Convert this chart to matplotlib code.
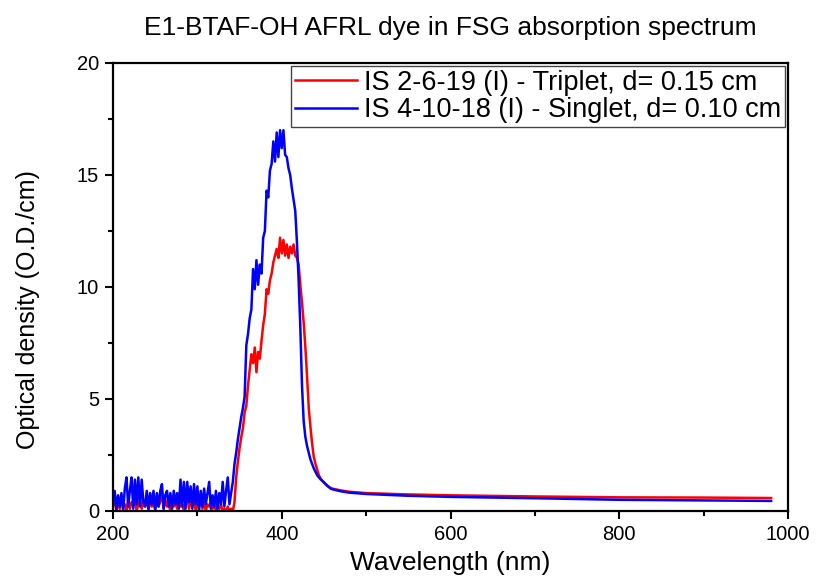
import matplotlib
matplotlib.use("Agg")
import matplotlib.pyplot as plt
from matplotlib.ticker import MultipleLocator
import numpy as np

plt.rcParams['font.family'] = ['Liberation Sans', 'DejaVu Sans']

# noisy part of the spectra, 2 nm steps from 200 nm
step = 2
red_noisy = [
    0.2, 0.5, 0.0, 0.4, 0.1, 0.6, 0.2, 0.3, 0.0, 0.5,      # 200
    0.1, 0.4, 0.2, 0.6, 0.0, 0.3, 0.5, 0.1, 0.4, 0.2,      # 220
    0.6, 0.0, 0.5, 0.2, 0.3, 0.1, 0.6, 0.2, 0.4, 0.8,      # 240
    0.1, 0.5, 0.2, 0.3, 0.0, 0.5, 0.2, 0.4, 0.1, 0.6,      # 260
    0.2, 0.3, 0.0, 0.5, 0.7, 0.1, 0.4, 0.2, 0.5, 0.0,      # 280
    0.3, 0.2, 0.5, 0.1, 0.4, 0.0, 0.3, 0.2, 0.4, 0.1,      # 300
    0.3, 0.0, 0.2, 0.1, 0.3, 0.0, 0.1, 0.0, 0.2, 0.0,      # 320
    0.1, 0.0, 0.4, 1.5, 2.2, 2.8, 3.3, 3.7, 4.4, 4.7,      # 340
    5.6, 6.3, 7.0, 6.6, 7.3, 6.2, 7.1, 6.8, 7.6, 8.3,      # 360
    8.8, 9.9, 9.7, 10.3, 10.6, 11.1, 11.4, 11.7, 11.3, 12.2,  # 380
    11.5, 12.1, 11.4, 11.9, 11.3, 11.8, 11.5, 11.9, 11.4, 11.3,  # 400
    11.0, 10.1, 9.3, 8.4, 7.3, 6.0, 4.6, 3.75, 3.0, 2.4,   # 420
    2.1, 1.85, 1.6, 1.45, 1.35, 1.27, 1.2, 1.14, 1.08, 1.02,  # 440
]
blue_noisy = [
    0.3, 0.9, 0.1, 0.7, 0.2, 0.8, 0.0, 1.0, 1.5, 0.2,      # 200
    0.9, 1.5, 0.1, 1.4, 0.3, 1.5, 0.2, 1.4, 0.4, 0.2,      # 220
    0.9, 0.1, 0.8, 0.3, 0.9, 0.0, 0.8, 0.2, 0.9, 1.2,      # 240
    0.1, 0.7, 0.9, 0.2, 0.8, 0.1, 0.9, 0.3, 0.8, 0.1,      # 260
    1.4, 0.2, 1.3, 0.1, 1.3, 0.4, 1.1, 0.1, 1.2, 0.3,      # 280
    1.1, 0.0, 0.9, 0.2, 1.0, 0.3, 0.8, 1.3, 0.1, 0.7,      # 300
    0.2, 0.9, 0.1, 0.8, 0.3, 1.3, 0.2, 0.9, 1.5, 0.3,      # 320
    0.8, 1.3, 2.1, 2.6, 3.2, 3.7, 4.2, 4.6, 5.1, 7.4,      # 340
    7.9, 8.6, 9.0, 10.8, 9.9, 11.2, 10.1, 11.0, 10.6, 12.2,  # 360
    12.5, 14.3, 14.0, 15.2, 15.5, 16.5, 15.6, 16.9, 15.8, 17.0,  # 380
    16.2, 17.0, 15.9, 15.8, 15.3, 15.0, 14.4, 13.9, 13.4, 12.0,  # 400
    10.3, 8.2, 5.6, 4.0, 3.3, 2.9, 2.6, 2.3, 2.1, 1.9,     # 420
    1.75, 1.6, 1.5, 1.42, 1.35, 1.28, 1.2, 1.12, 1.06, 1.0,  # 440
]

# smooth tail
tail_wl = [460, 470, 480, 500, 550, 600, 700, 800, 900, 980]
red_tail = [1.0, 0.92, 0.86, 0.8, 0.74, 0.7, 0.65, 0.61, 0.6, 0.58]
blue_tail = [0.97, 0.88, 0.82, 0.76, 0.68, 0.63, 0.57, 0.5, 0.47, 0.45]

red_label = 'IS 2-6-19 (I) - Triplet, d= 0.15 cm'
blue_label = 'IS 4-10-18 (I) - Singlet, d= 0.10 cm'

wl_red = list(200 + step * np.arange(len(red_noisy))) + tail_wl
wl_blue = list(200 + step * np.arange(len(blue_noisy))) + tail_wl
red = red_noisy + red_tail
blue = blue_noisy + blue_tail

fig = plt.figure(figsize=(8.16, 5.86), dpi=100)
ax = fig.add_axes([113 / 816, 75 / 586, 675 / 816, 448 / 586])

ax.plot(wl_red, red, color='#ff0000', lw=1.8, label=red_label)
ax.plot(wl_blue, blue, color='#0000ff', lw=1.8, label=blue_label)

ax.set_xlim(200, 1000)
ax.set_ylim(0, 20)
ax.xaxis.set_major_locator(MultipleLocator(200))
ax.xaxis.set_minor_locator(MultipleLocator(100))
ax.yaxis.set_major_locator(MultipleLocator(5))
ax.yaxis.set_minor_locator(MultipleLocator(2.5))
ax.tick_params(which='both', direction='out', width=1.5, labelsize=14.5)
ax.tick_params(which='major', length=6, pad=4)
ax.tick_params(which='minor', length=3.5)
for s in ax.spines.values():
    s.set_linewidth(1.6)

ax.set_xlabel('Wavelength (nm)', fontsize=19, labelpad=5)
ax.set_ylabel('Optical density (O.D./cm)', fontsize=18)
ax.yaxis.set_label_coords(-0.108, 0.45)
ax.set_title('E1-BTAF-OH AFRL dye in FSG absorption spectrum', fontsize=19, pad=20)

leg = ax.legend(loc='upper right', fontsize=19.5, fancybox=False, framealpha=1,
                edgecolor='#444444', borderaxespad=0.1, handlelength=2.3,
                handletextpad=0.25, borderpad=0.15, labelspacing=0.05)
leg.get_frame().set_linewidth(1.0)

fig.savefig('out.png', dpi=100)
plt.close()
